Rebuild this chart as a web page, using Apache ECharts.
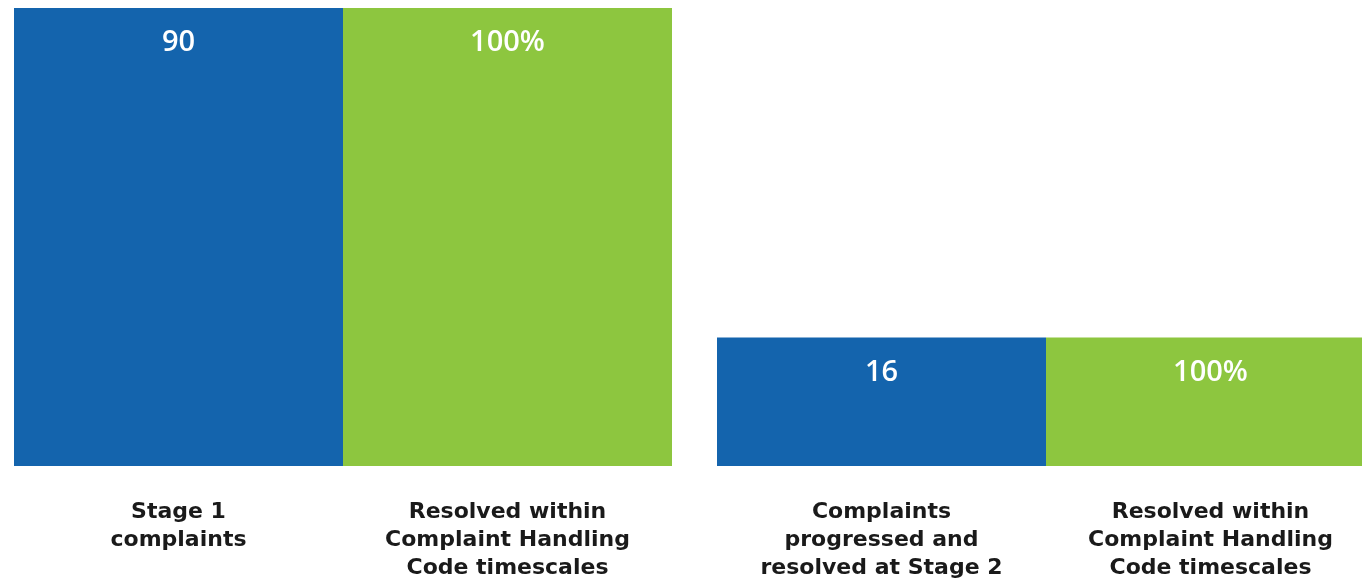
<!DOCTYPE html>
<html>
<head>
<meta charset="utf-8">
<script src="https://cdn.jsdelivr.net/npm/echarts@6/dist/echarts.min.js"></script>
<style>
  html, body { margin: 0; padding: 0; background: #fff; }
  #chart { width: 1362px; height: 582px; }
</style>
</head>
<body>
<div id="chart"></div>
<script>
// stage 1 group
const stage1Categories = ['Stage 1\ncomplaints', 'Resolved within\nComplaint Handling\nCode timescales']
const stage1Values = [90, 90]
const stage1Labels = ['90', '100%']
// stage 2 group
const stage2Categories = ['Complaints\nprogressed and\nresolved at Stage 2', 'Resolved within\nComplaint Handling\nCode timescales']
const stage2Values = [16, 16]
const stage2Labels = ['16', '100%']
// each panel has its own scale in the original
const axisMax = [90, 57]

const BLUE = '#1464ad'
const GREEN = '#8dc63f'

const chart = echarts.init(document.getElementById('chart'))

const xAxisFor = (idx, cats) => ({
  type: 'category',
  gridIndex: idx,
  data: cats,
  axisLine: { show: false },
  axisTick: { show: false },
  axisLabel: {
    interval: 0,
    margin: 32,
    color: '#1a1a1a',
    fontFamily: 'DejaVu Sans',
    fontWeight: 'bold',
    fontSize: 22,
    lineHeight: 28,
    align: 'center',
  },
})

const yAxisFor = (idx) => ({
  type: 'value',
  gridIndex: idx,
  min: 0,
  max: axisMax[idx],
  show: false,
  splitLine: { show: false },
})

const seriesFor = (idx, values, labels) => ({
  type: 'bar',
  xAxisIndex: idx,
  yAxisIndex: idx,
  barWidth: '100%',
  data: values.map((v, i) => ({ value: v, itemStyle: { color: i === 0 ? BLUE : GREEN } })),
  label: {
    show: true,
    position: 'insideTop',
    distance: 20,
    color: '#fff',
    fontFamily: 'Open Sans',
    fontWeight: 600,
    fontSize: 29,
    lineHeight: 30,
    formatter: (p) => labels[p.dataIndex],
  },
})

chart.setOption({
  animation: false,
  grid: [
    { left: 14, top: 8, width: 658, height: 458, outerBoundsMode: 'none' },
    { left: 717, top: 8, width: 658, height: 458, outerBoundsMode: 'none' },
  ],
  xAxis: [xAxisFor(0, stage1Categories), xAxisFor(1, stage2Categories)],
  yAxis: [yAxisFor(0), yAxisFor(1)],
  series: [seriesFor(0, stage1Values, stage1Labels), seriesFor(1, stage2Values, stage2Labels)],
})
</script>
</body>
</html>
